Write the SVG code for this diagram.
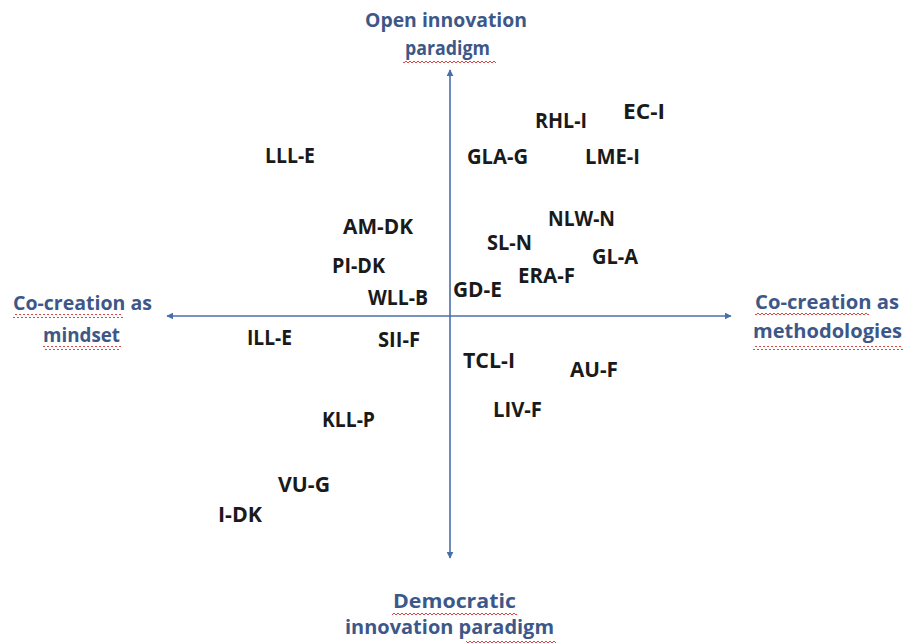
<svg xmlns="http://www.w3.org/2000/svg" width="907" height="643" viewBox="0 0 907 643">
  <style>
    .axis { stroke: #4a6fa8; stroke-width: 1.6; fill: none; }
    .ax-label { font-family: "Open Sans", "Liberation Sans", sans-serif; font-weight: 700; font-size: 20px; fill: #3d5888; }
    .node-label { font-family: "Open Sans", "Liberation Sans", sans-serif; font-weight: 700; font-size: 21px; fill: #1a1a1a; }
    .squiggle { fill: url(#wave); }
  </style>
  <defs>
    <marker id="arrow" viewBox="0 0 10 10" refX="9" refY="5" markerWidth="7" markerHeight="7" orient="auto-start-reverse" markerUnits="userSpaceOnUse">
      <path d="M0,0 L10,5 L0,10 z" fill="#4a6fa8"/>
    </marker>
    <!-- spell-check style wavy underline -->
    <pattern id="wave" width="4" height="4" patternUnits="userSpaceOnUse">
      <path d="M0,3 L2,1 L4,3" fill="none" stroke="#d84848" stroke-width="1"/>
    </pattern>
  </defs>

  <rect width="907" height="643" fill="#ffffff"/>

  <!-- axes -->
  <g id="connectors">
    <line class="axis" x1="450" y1="316" x2="450" y2="70" marker-end="url(#arrow)"/>
    <line class="axis" x1="450" y1="316" x2="450" y2="558" marker-end="url(#arrow)"/>
    <line class="axis" x1="450" y1="316" x2="167" y2="316" marker-end="url(#arrow)"/>
    <line class="axis" x1="450" y1="316" x2="731" y2="316" marker-end="url(#arrow)"/>
  </g>

  <!-- axis titles -->
  <g id="axis-top">
    <text class="ax-label" x="365" y="27" textLength="162" lengthAdjust="spacingAndGlyphs">Open innovation</text>
    <text class="ax-label" x="405" y="55" textLength="85" lengthAdjust="spacingAndGlyphs">paradigm</text>
    <rect class="squiggle" x="403" y="59" width="93" height="4"/>
  </g>
  <g id="axis-left">
    <text class="ax-label" x="13" y="310" textLength="139" lengthAdjust="spacingAndGlyphs">Co-creation as</text>
    <rect class="squiggle" x="13" y="314" width="110" height="4"/>
    <text class="ax-label" x="43" y="342" textLength="77" lengthAdjust="spacingAndGlyphs">mindset</text>
    <rect class="squiggle" x="43" y="346" width="78" height="4"/>
  </g>
  <g id="axis-right">
    <text class="ax-label" x="755" y="309" textLength="144" lengthAdjust="spacingAndGlyphs">Co-creation as</text>
    <rect class="squiggle" x="755" y="313" width="114" height="4"/>
    <text class="ax-label" x="753" y="338" textLength="149" lengthAdjust="spacingAndGlyphs">methodologies</text>
    <rect class="squiggle" x="753" y="346" width="150" height="4"/>
  </g>
  <g id="axis-bottom">
    <text class="ax-label" x="393" y="608" textLength="123" lengthAdjust="spacingAndGlyphs">Democratic</text>
    <rect class="squiggle" x="392" y="612" width="125" height="4"/>
    <text class="ax-label" x="345" y="634" textLength="209" lengthAdjust="spacingAndGlyphs">innovation paradigm</text>
    <rect class="squiggle" x="466" y="639" width="90" height="4"/>
  </g>

  <!-- plotted cases -->
  <g id="EC-I"><text class="node-label" x="623" y="119" font-size="23.5" textLength="42" lengthAdjust="spacingAndGlyphs">EC-I</text></g>
  <g id="RHL-I"><text class="node-label" x="535" y="128" textLength="52" lengthAdjust="spacingAndGlyphs">RHL-I</text></g>
  <g id="GLA-G"><text class="node-label" x="467" y="164" textLength="61" lengthAdjust="spacingAndGlyphs">GLA-G</text></g>
  <g id="LME-I"><text class="node-label" x="585" y="164" textLength="55" lengthAdjust="spacingAndGlyphs">LME-I</text></g>
  <g id="LLL-E"><text class="node-label" x="265" y="163" textLength="50" lengthAdjust="spacingAndGlyphs">LLL-E</text></g>
  <g id="AM-DK"><text class="node-label" x="343" y="234" textLength="70" lengthAdjust="spacingAndGlyphs">AM-DK</text></g>
  <g id="NLW-N"><text class="node-label" x="548" y="226" textLength="67" lengthAdjust="spacingAndGlyphs">NLW-N</text></g>
  <g id="SL-N"><text class="node-label" x="487" y="250" textLength="45" lengthAdjust="spacingAndGlyphs">SL-N</text></g>
  <g id="GL-A"><text class="node-label" x="592" y="264" textLength="46" lengthAdjust="spacingAndGlyphs">GL-A</text></g>
  <g id="PI-DK"><text class="node-label" x="332" y="273" textLength="53" lengthAdjust="spacingAndGlyphs">PI-DK</text></g>
  <g id="ERA-F"><text class="node-label" x="518" y="283" textLength="57" lengthAdjust="spacingAndGlyphs">ERA-F</text></g>
  <g id="GD-E"><text class="node-label" x="453" y="297" textLength="49" lengthAdjust="spacingAndGlyphs">GD-E</text></g>
  <g id="WLL-B"><text class="node-label" x="368" y="305" textLength="60" lengthAdjust="spacingAndGlyphs">WLL-B</text></g>
  <g id="ILL-E"><text class="node-label" x="247" y="345" textLength="45" lengthAdjust="spacingAndGlyphs">ILL-E</text></g>
  <g id="SII-F"><text class="node-label" x="378" y="347" textLength="42" lengthAdjust="spacingAndGlyphs">SII-F</text></g>
  <g id="TCL-I"><text class="node-label" x="463" y="368" textLength="52" lengthAdjust="spacingAndGlyphs">TCL-I</text></g>
  <g id="AU-F"><text class="node-label" x="570" y="377" textLength="48" lengthAdjust="spacingAndGlyphs">AU-F</text></g>
  <g id="LIV-F"><text class="node-label" x="493" y="417" textLength="49" lengthAdjust="spacingAndGlyphs">LIV-F</text></g>
  <g id="KLL-P"><text class="node-label" x="322" y="427" textLength="53" lengthAdjust="spacingAndGlyphs">KLL-P</text></g>
  <g id="VU-G"><text class="node-label" x="278" y="492" textLength="52" lengthAdjust="spacingAndGlyphs">VU-G</text></g>
  <g id="I-DK"><text class="node-label" x="218" y="522" textLength="44" lengthAdjust="spacingAndGlyphs">I-DK</text></g>
</svg>
